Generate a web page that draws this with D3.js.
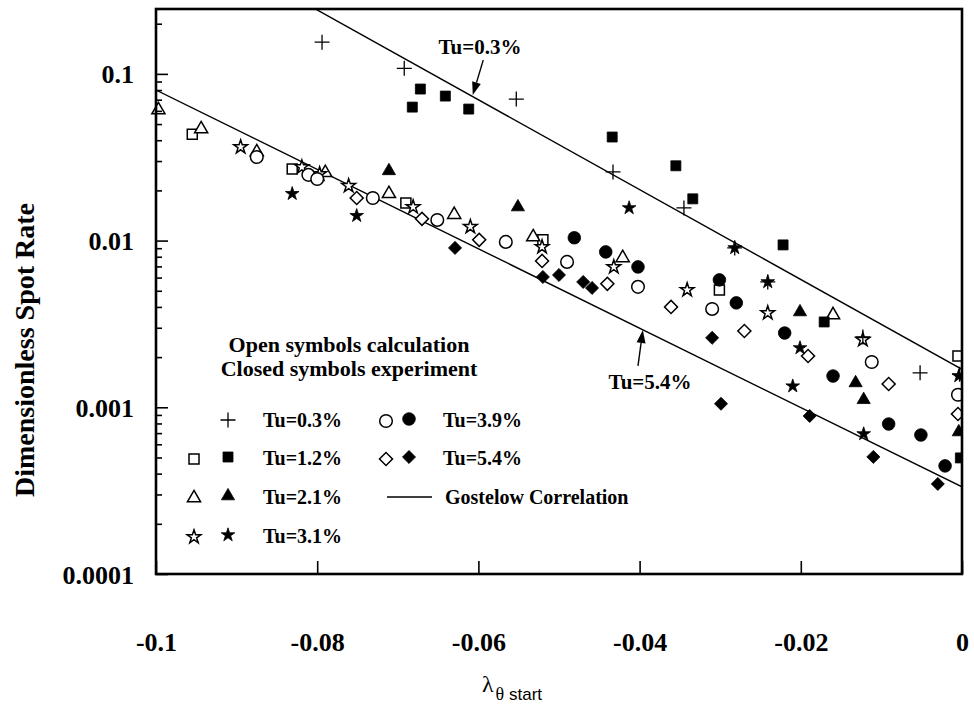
<!DOCTYPE html>
<html><head><meta charset="utf-8">
<script src="https://cdn.jsdelivr.net/npm/d3@7"></script>
<style>
body{margin:0;background:#fff}
svg{display:block}
text{font-family:"Liberation Serif","Times New Roman",serif;font-weight:bold;fill:#000}
</style>
</head><body><svg id="c" width="974" height="709"></svg>
<script>
// ---------- data ----------
const xTicks = [-0.1, -0.08, -0.06, -0.04, -0.02, 0];
const xTickLabels = ["-0.1", "-0.08", "-0.06", "-0.04", "-0.02", "0"];
const yTicks = [0.0001, 0.001, 0.01, 0.1];
const yTickLabels = ["0.0001", "0.001", "0.01", "0.1"];

// [lambda_theta_start, dimensionless spot rate]
const tu03Calc = [[-0.0794,0.155],[-0.0692,0.108],[-0.0553,0.0706],[-0.0433,0.0258],[-0.0345,0.0157],[-0.0282,0.00904],[-0.0241,0.00565],[-0.0123,0.00264],[-0.0052,0.00161],[-0.0003,0.00158]];
const tu12Calc = [[-0.0955,0.0435],[-0.0831,0.0269],[-0.0690,0.0168],[-0.0520,0.0101],[-0.0301,0.00506],[-0.0005,0.00203]];
const tu12Exp  = [[-0.0682,0.0632],[-0.0672,0.0811],[-0.0641,0.0736],[-0.0612,0.0615],[-0.0434,0.0418],[-0.0355,0.0281],[-0.0334,0.0178],[-0.0222,0.00942],[-0.0171,0.00325],[-0.0002,0.000497]];
const tu21Calc = [[-0.0997,0.0607],[-0.0944,0.0467],[-0.0875,0.0340],[-0.0790,0.0255],[-0.0711,0.0191],[-0.0630,0.0143],[-0.0532,0.0105],[-0.0421,0.00788],[-0.0160,0.00358]];
const tu21Exp  = [[-0.0711,0.0262],[-0.0551,0.0159],[-0.0201,0.00373],[-0.0132,0.00140],[-0.0122,0.00111],[-0.0004,0.000711]];
const tu31Calc = [[-0.0895,0.0364],[-0.0819,0.0276],[-0.0797,0.0251],[-0.0761,0.0213],[-0.0681,0.0159],[-0.0610,0.0121],[-0.0521,0.00917],[-0.0432,0.00695],[-0.0341,0.00506],[-0.0241,0.00368],[-0.0123,0.00254]];
const tu31Exp  = [[-0.0831,0.0191],[-0.0751,0.0141],[-0.0413,0.0157],[-0.0282,0.00904],[-0.0241,0.00565],[-0.0201,0.00227],[-0.0210,0.00134],[-0.0122,0.000692],[-0.0004,0.00154]];
const tu39Calc = [[-0.0875,0.0317],[-0.0811,0.0248],[-0.0800,0.0234],[-0.0731,0.0180],[-0.0651,0.0133],[-0.0566,0.00982],[-0.0490,0.00745],[-0.0402,0.00528],[-0.0310,0.00389],[-0.0112,0.00187],[-0.0005,0.00119]];
const tu39Exp  = [[-0.0481,0.0104],[-0.0442,0.00855],[-0.0402,0.00695],[-0.0301,0.00581],[-0.0280,0.00423],[-0.0220,0.00279],[-0.0160,0.00154],[-0.0091,0.000794],[-0.0051,0.000682],[-0.0021,0.000445]];
const tu54Calc = [[-0.0751,0.0180],[-0.0670,0.0135],[-0.0599,0.0101],[-0.0521,0.00755],[-0.0440,0.00550],[-0.0361,0.00400],[-0.0270,0.00287],[-0.0191,0.00203],[-0.0091,0.00138],[-0.0005,0.000912]];
const tu54Exp  = [[-0.0629,0.00904],[-0.0520,0.00605],[-0.0500,0.00622],[-0.0470,0.00565],[-0.0459,0.00520],[-0.0310,0.00261],[-0.0299,0.00105],[-0.0189,0.000887],[-0.0110,0.000504],[-0.0030,0.000347]];

// Gostelow correlation (straight on log scale)
const gostelow03 = [[-0.1,0.836],[0,0.00169]];
const gostelow54 = [[-0.1,0.0800],[0,0.000333]];

// annotation anchors (data coords): text, arrow tail, arrow tip
const annotations = [
  {label:"Tu=0.3%", text:[-0.0598,0.145], tail:[-0.0594,0.121], tip:[-0.0607,0.0746]},
  {label:"Tu=5.4%", text:[-0.0387,0.00142], tail:[-0.0402,0.00177], tip:[-0.0396,0.00291]}
];

// ---------- layout ----------
const L = 156, R = 962, T = 9, B = 574;
const svg = d3.select("#c");
const x = d3.scaleLinear().domain([-0.1, 0]).range([L, R]);
const y = d3.scaleLog().domain([0.0001, 0.245]).range([B, T]);

svg.append("defs").append("clipPath").attr("id","plot")
  .append("rect").attr("x",L).attr("y",T).attr("width",R-L).attr("height",B-T);
svg.append("defs").append("clipPath").attr("id","marks")
  .append("rect").attr("x",0).attr("y",T).attr("width",R).attr("height",B-T);

// symbol types
const plusType = {draw(ctx,size){const r=Math.sqrt(size)/2;ctx.moveTo(-r,0);ctx.lineTo(r,0);ctx.moveTo(0,-r);ctx.lineTo(0,r);}};
const sym = {
  plus:   {type:plusType, size:225, rot:0},
  square: {type:d3.symbolSquare, size:100, rot:0},
  tri:    {type:d3.symbolTriangle, size:75, rot:0},
  star:   {type:d3.symbolStar, size:58, rot:0},
  circle: {type:d3.symbolCircle, size:125, rot:0},
  diamond:{type:d3.symbolSquare, size:85, rot:45}
};
function drawSym(g, cx, cy, kind, filled){
  const s = sym[kind];
  const p = g.append("path")
    .attr("d", d3.symbol().type(s.type).size(s.size)())
    .attr("transform", `translate(${cx},${cy}) rotate(${s.rot})`);
  if (kind === "plus") p.attr("fill","none").attr("stroke","#000").attr("stroke-width",1.3);
  else if (filled) p.attr("fill","#000").attr("stroke","#000").attr("stroke-width",0.8);
  else p.attr("fill","#fff").attr("stroke","#000").attr("stroke-width",1.5);
  return p;
}

// correlation lines
const line = d3.line().x(d=>x(d[0])).y(d=>y(d[1]));
const lg = svg.append("g").attr("clip-path","url(#plot)");
[gostelow03, gostelow54].forEach(dat=>{
  lg.append("path").datum(dat).attr("d",line).attr("fill","none").attr("stroke","#000").attr("stroke-width",1.4);
});

// markers
const series = [
  {data:tu12Calc, kind:"square", filled:false},
  {data:tu21Calc, kind:"tri", filled:false},
  {data:tu31Calc, kind:"star", filled:false},
  {data:tu39Calc, kind:"circle", filled:false},
  {data:tu54Calc, kind:"diamond", filled:false},
  {data:tu12Exp, kind:"square", filled:true},
  {data:tu21Exp, kind:"tri", filled:true},
  {data:tu31Exp, kind:"star", filled:true},
  {data:tu39Exp, kind:"circle", filled:true},
  {data:tu54Exp, kind:"diamond", filled:true},
  {data:tu03Calc, kind:"plus", filled:false}
];
const mg = svg.append("g").attr("clip-path","url(#marks)");
series.forEach(s=>{
  s.data.forEach(d=>drawSym(mg, x(d[0]), y(d[1]), s.kind, s.filled));
});

// axes
const minorTicks = [];
[0.0001,0.001,0.01,0.1].forEach(dec=>{for(let k=2;k<=9;k++){const v=dec*k; if(v<=0.245) minorTicks.push(v);}});
const yMinor = d3.axisLeft(y).tickValues(minorTicks).tickFormat("").tickSizeInner(-6).tickSizeOuter(0);
const yMajor = d3.axisLeft(y).tickValues(yTicks).tickFormat((d,i)=>yTickLabels[i]).tickSizeInner(-12).tickSizeOuter(0).tickPadding(22);
const gyMinor = svg.append("g").attr("transform",`translate(${L},0)`).call(yMinor);
const gyMajor = svg.append("g").attr("transform",`translate(${L},0)`).call(yMajor);
const xAxis = d3.axisBottom(x).tickValues(xTicks).tickFormat((d,i)=>xTickLabels[i]).tickSizeInner(-13).tickSizeOuter(0).tickPadding(59);
const gx = svg.append("g").attr("transform",`translate(0,${B})`).call(xAxis);
[gyMinor, gyMajor, gx].forEach(g=>{
  g.select(".domain").remove();
  g.selectAll(".tick line").attr("stroke","#000").attr("stroke-width",1.6);
  g.selectAll("text").style("font-family","'Liberation Serif',serif").style("font-weight","bold").style("font-size","26px").attr("fill","#000");
});
gyMajor.selectAll(".tick text").attr("dy","0.35em");

// frame
svg.append("rect").attr("x",L).attr("y",T).attr("width",R-L).attr("height",B-T)
  .attr("fill","none").attr("stroke","#000").attr("stroke-width",2.6);

// axis titles
svg.append("text").attr("transform",`translate(34,350) rotate(-90)`)
  .attr("text-anchor","middle").style("font-size","28px").text("Dimensionless Spot Rate");
const xt = svg.append("text").attr("x",512).attr("y",692).attr("text-anchor","middle");
xt.append("tspan").style("font-size","24px").style("font-weight","normal").text("λ");
xt.append("tspan").attr("dy",8).attr("dx",2).style("font-size","18px").style("font-weight","normal").text("θ");
xt.append("tspan").style("font-size","17px").style("font-weight","normal").style("font-family","'Liberation Sans',Arial,sans-serif").text(" start");

// annotations
annotations.forEach(a=>{
  const tx = x(a.tail[0]), ty = y(a.tail[1]), px = x(a.tip[0]), py = y(a.tip[1]);
  const ang = Math.atan2(py-ty, px-tx);
  const hl = 13, hw = 4.5;
  const bx = px - hl*Math.cos(ang), by = py - hl*Math.sin(ang);
  svg.append("line").attr("x1",tx).attr("y1",ty).attr("x2",bx).attr("y2",by).attr("stroke","#000").attr("stroke-width",1.4);
  svg.append("path").attr("d",`M${px},${py}L${bx+hw*Math.sin(ang)},${by-hw*Math.cos(ang)}L${bx-hw*Math.sin(ang)},${by+hw*Math.cos(ang)}Z`).attr("fill","#000");
  svg.append("text").attr("x",x(a.text[0])).attr("y",y(a.text[1])).attr("dy","0.35em")
    .attr("text-anchor","middle").style("font-size","21px").text(a.label);
});

// legend
const lgd = svg.append("g");
lgd.append("text").attr("x",349).attr("y",352).attr("text-anchor","middle").style("font-size","22px").text("Open symbols calculation");
lgd.append("text").attr("x",349).attr("y",376).attr("text-anchor","middle").style("font-size","22px").text("Closed symbols experiment");
const legendRows = [
  {open:null, closed:"plus", label:"Tu=0.3%", col:0, row:0},
  {open:"square", closed:"square", label:"Tu=1.2%", col:0, row:1},
  {open:"tri", closed:"tri", label:"Tu=2.1%", col:0, row:2},
  {open:"star", closed:"star", label:"Tu=3.1%", col:0, row:3},
  {open:"circle", closed:"circle", label:"Tu=3.9%", col:1, row:0},
  {open:"diamond", closed:"diamond", label:"Tu=5.4%", col:1, row:1}
];
const rowY = [420, 458, 497, 536];
const colX = [{o:194, c:228, t:263}, {o:386, c:409, t:443}];
legendRows.forEach(r=>{
  const cx = colX[r.col], cy = rowY[r.row];
  if (r.open) drawSym(lgd, cx.o, cy+1, r.open, false);
  if (r.closed === "plus") drawSym(lgd, cx.c, cy, "plus", false);
  else drawSym(lgd, cx.c, cy-1, r.closed, true);
  lgd.append("text").attr("x",cx.t).attr("y",cy).attr("dy","0.35em").style("font-size","20px").text(r.label);
});
lgd.append("line").attr("x1",387).attr("x2",432).attr("y1",rowY[2]).attr("y2",rowY[2]).attr("stroke","#000").attr("stroke-width",1.3);
lgd.append("text").attr("x",445).attr("y",rowY[2]).attr("dy","0.35em").style("font-size","20px").text("Gostelow Correlation");
</script>
</body></html>
